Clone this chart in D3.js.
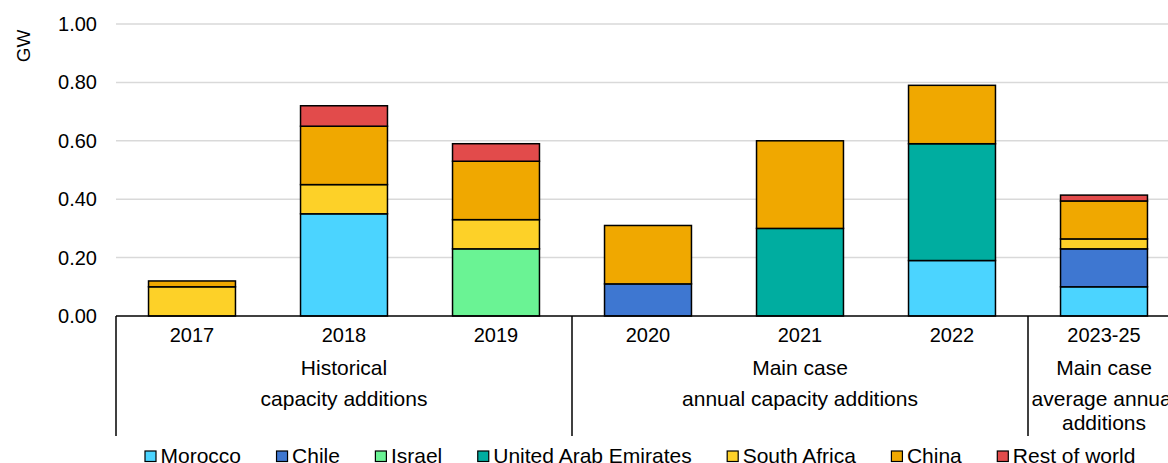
<!DOCTYPE html>
<html><head><meta charset="utf-8">
<script src="https://cdn.jsdelivr.net/npm/d3@7"></script>
<style>
html,body{margin:0;padding:0;background:#fff;overflow:hidden}
text{font-family:"Liberation Sans",Arial,sans-serif;fill:#000}
</style></head>
<body>
<svg id="c" width="1168" height="463"></svg>
<script>
const categories = ["2017","2018","2019","2020","2021","2022","2023-25"];
const seriesNames = ["Morocco","Chile","Israel","United Arab Emirates","South Africa","China","Rest of world"];
const morocco = [0, 0.35, 0, 0, 0, 0.19, 0.10];
const chile   = [0, 0, 0, 0.11, 0, 0, 0.13];
const israel  = [0, 0, 0.23, 0, 0, 0, 0];
const uae     = [0, 0, 0, 0, 0.30, 0.40, 0];
const southAfrica = [0.10, 0.10, 0.10, 0, 0, 0, 0.034];
const china   = [0.02, 0.20, 0.20, 0.20, 0.30, 0.20, 0.13];
const restOfWorld = [0, 0.07, 0.06, 0, 0, 0, 0.02];
const yTicks = [0, 0.2, 0.4, 0.6, 0.8, 1.0];
const groups = [
  {from:0, to:2, lines:["Historical","capacity additions"]},
  {from:3, to:5, lines:["Main case","annual capacity additions"]},
  {from:6, to:6, lines:["Main case","average annual","additions"]}
];
const colors = ["#4BD4FF","#3E77D1","#6AF394","#00ADA0","#FDD128","#F0A800","#E24B4B"];

const seriesValues = [morocco, chile, israel, uae, southAfrica, china, restOfWorld];
const rows = categories.map((c,i)=>{
  const r = {cat:c};
  seriesNames.forEach((s,j)=> r[s] = seriesValues[j][i]);
  return r;
});

const svg = d3.select("#c");
const x0 = 116, step = 152;
const x = d3.scaleBand().domain(categories).range([x0, x0 + step*categories.length]).paddingInner(0.428).paddingOuter(0.214);
const y = d3.scaleLinear().domain([0,1]).range([316,24]);

// gridlines
svg.append("g").selectAll("line").data(yTicks.filter(d=>d>0)).join("line")
  .attr("x1", x0).attr("x2", 1168).attr("y1", d=>y(d)).attr("y2", d=>y(d))
  .attr("stroke","#d9d9d9").attr("stroke-width",1.5);

// y axis labels
const yAxis = d3.axisLeft(y).tickValues(yTicks).tickFormat(d3.format(".2f")).tickSize(0).tickPadding(19);
const ya = svg.append("g").attr("transform",`translate(${x0},0)`).call(yAxis);
ya.select(".domain").remove();
ya.selectAll("text").attr("font-size",20).attr("font-family","Liberation Sans, Arial, sans-serif").attr("fill","#000");

svg.append("text").attr("transform","translate(30,46) rotate(-90)").attr("text-anchor","middle")
  .attr("font-size",19).text("GW");

// stacked bars
const stack = d3.stack().keys(seriesNames)(rows);
svg.append("g").selectAll("g").data(stack).join("g")
  .attr("fill",(d,i)=>colors[i])
  .selectAll("rect").data(d=>d.filter(e=>e[1]-e[0]>0)).join("rect")
  .attr("x", d=>x(d.data.cat)).attr("width", x.bandwidth())
  .attr("y", d=>y(d[1])).attr("height", d=>y(d[0])-y(d[1]))
  .attr("stroke","#000").attr("stroke-width",1.5);

// category axis
const ax = svg.append("g");
ax.append("line").attr("x1",x0).attr("x2",1168).attr("y1",316).attr("y2",316).attr("stroke","#000").attr("stroke-width",1.5);
const seps = [0,3,6];
ax.selectAll("line.sep").data(seps).join("line").attr("class","sep")
  .attr("x1",d=>x0+d*step).attr("x2",d=>x0+d*step).attr("y1",316).attr("y2",436)
  .attr("stroke","#000").attr("stroke-width",1.5);
ax.selectAll("text.cat").data(categories).join("text").attr("class","cat")
  .attr("x",d=>x(d)+x.bandwidth()/2).attr("y",341.5).attr("text-anchor","middle").attr("font-size",20).text(d=>d);
const lineY = [374.5, 405.5, 429.5];
groups.forEach(g=>{
  const cx = (x0+g.from*step + x0+(g.to+1)*step)/2;
  g.lines.forEach((l,k)=>{
    ax.append("text").attr("x",cx).attr("y",lineY[k]).attr("text-anchor","middle").attr("font-size",21).text(l);
  });
});

// legend
const lg = svg.append("g");
let lx = 145;
seriesNames.forEach((s,i)=>{
  lg.append("rect").attr("x",lx).attr("y",451).attr("width",11).attr("height",10.5)
    .attr("fill",colors[i]).attr("stroke","#000").attr("stroke-width",1.2);
  const t = lg.append("text").attr("x",lx+15.5).attr("y",462.5).attr("font-size",21).text(s);
  lx = lx + 15.5 + t.node().getComputedTextLength() + 35.5;
});
</script>
</body></html>
